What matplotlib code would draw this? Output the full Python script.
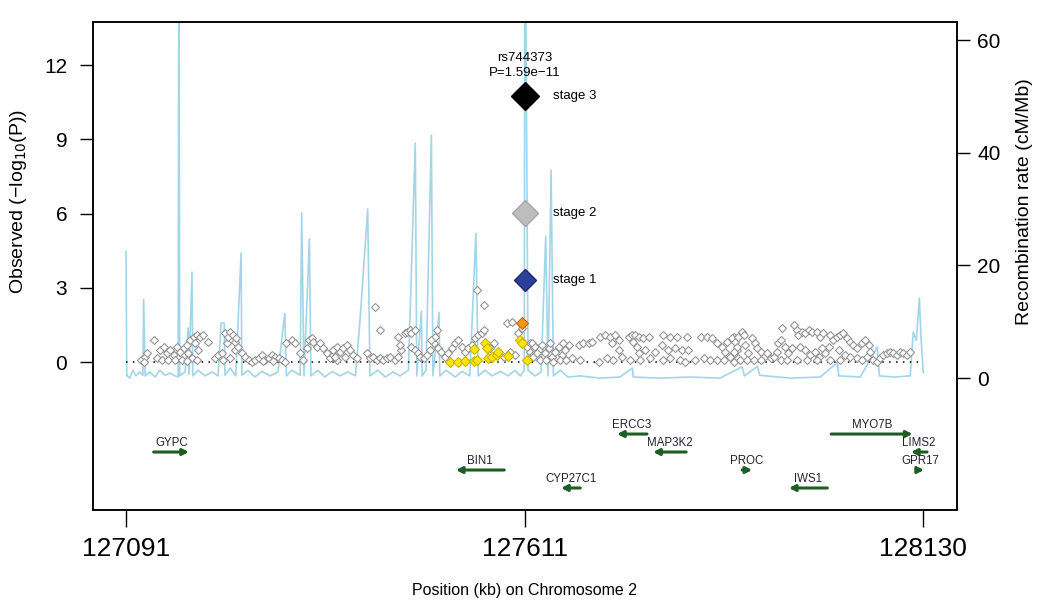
import numpy as np
import matplotlib.pyplot as plt

plt.rcParams['font.family'] = ['Liberation Sans', 'DejaVu Sans']

# recombination rate track (kb, cM/Mb)
recomb_pos = [127091, 127092, 127096, 127100, 127104, 127109, 127113, 127114, 127116, 127122,
              127129, 127135, 127142, 127148, 127155, 127159, 127160, 127161, 127168, 127172,
              127173, 127177, 127178, 127185, 127194, 127203, 127211, 127215, 127219, 127220,
              127227, 127234, 127241, 127242, 127250, 127259, 127268, 127279, 127289, 127298,
              127300, 127307, 127318, 127320, 127323, 127330, 127332, 127341, 127350, 127360,
              127370, 127380, 127390, 127396, 127406, 127409, 127419, 127429, 127439, 127448,
              127459, 127468, 127470, 127476, 127477, 127482, 127489, 127491, 127499, 127500,
              127508, 127520, 127529, 127539, 127547, 127550, 127559, 127568, 127579, 127589,
              127598, 127605, 127610, 127611, 127615, 127624, 127632, 127638, 127641, 127645,
              127648, 127657, 127667, 127683, 127709, 127735, 127751, 127752, 127787, 127826,
              127865, 127894, 127897, 127914, 127917, 127957, 127996, 128018, 128020, 128048,
              128070, 128073, 128093, 128113, 128117, 128121, 128125, 128127, 128130]
recomb_rate = [22.5, 0.5, 0.0, 1.4, 0.4, 1.1, 0.5, 14.0, 0.4, 1.1,
               0.2, 1.4, 0.5, 0.9, 0.4, 0.2, 80.0, 0.4, 1.1, 8.9,
               0.7, 18.8, 0.4, 1.4, 0.4, 1.1, 0.4, 9.8, 9.8, 0.5,
               1.8, 0.4, 22.2, 0.5, 1.4, 0.2, 1.2, 0.4, 1.1, 11.5,
               0.4, 1.4, 0.5, 29.3, 0.4, 24.7, 0.4, 1.4, 0.2, 1.2,
               0.4, 1.1, 0.4, 10.3, 30.0, 0.4, 1.4, 0.2, 1.1, 0.4,
               1.4, 41.7, 0.4, 11.9, 0.4, 1.4, 43.1, 0.4, 11.7, 0.4,
               1.4, 0.2, 1.2, 0.4, 25.7, 0.4, 1.4, 0.4, 1.2, 0.4,
               1.4, 0.4, 1.4, 90.0, 1.4, 0.4, 1.1, 25.2, 0.4, 36.9,
               0.4, 1.4, 0.2, 0.4, 0.0, 0.2, 1.8, 0.2, 0.0, 0.2,
               0.0, 2.0, 0.4, 2.1, 0.5, 0.0, 0.2, 2.8, 0.4, 0.2,
               5.5, 0.4, 0.2, 0.4, 8.2, 6.7, 14.2, 7.5, 1.0]

# SNPs (kb, -log10 P), not in LD with the index SNP
snp_pos = [127111, 127116, 127118, 127114, 127128, 127135, 127140, 127144, 127148, 127153,
           127157, 127159, 127161, 127166, 127170, 127172, 127175, 127177, 127179, 127183,
           127188, 127192, 127198, 127181, 127185, 127131, 127138, 127146, 127155, 127164,
           127170, 127183, 127207, 127211, 127216, 127220, 127222, 127224, 127227, 127231,
           127233, 127235, 127218, 127227, 127233, 127237, 127242, 127246, 127251, 127255,
           127259, 127264, 127268, 127272, 127277, 127281, 127285, 127290, 127294, 127298,
           127270, 127283, 127300, 127307, 127311, 127318, 127322, 127327, 127329, 127333,
           127335, 127340, 127344, 127348, 127353, 127357, 127361, 127366, 127368,
           127361, 127366, 127370, 127374, 127379, 127383, 127363, 127376, 127387, 127392,
           127416, 127422, 127405, 127409, 127413, 127418, 127422, 127426, 127431, 127435,
           127442, 127446, 127450, 127448, 127446, 127455, 127457, 127461, 127463, 127468,
           127463, 127468, 127472, 127474, 127479, 127483, 127487, 127492, 127494, 127496,
           127489, 127498, 127502, 127507, 127511, 127516, 127520, 127524, 127529, 127533,
           127537, 127542, 127546, 127550, 127555, 127557, 127557, 127548, 127570, 127565,
           127574, 127583, 127592, 127587, 127594, 127598, 127602, 127607, 127613, 127618,
           127622, 127626, 127618, 127626,
           127620, 127624, 127629, 127633, 127637, 127642, 127646, 127650, 127655, 127659,
           127663, 127668, 127672, 127622, 127631, 127639, 127648, 127657, 127665, 127626,
           127644, 127661, 127681, 127687, 127694, 127698, 127683, 127707, 127709, 127715,
           127722, 127728, 127724, 127733, 127737, 127718, 127726, 127733, 127746, 127750,
           127755, 127759, 127765, 127772, 127752, 127757, 127759, 127761, 127768, 127748,
           127774, 127781, 127789, 127791, 127800, 127809, 127822, 127798, 127807, 127815,
           127824, 127800, 127813, 127820, 127791, 127841, 127848, 127855, 127861, 127868,
           127872, 127874, 127878, 127883, 127887, 127833, 127844, 127852, 127861, 127870,
           127883, 127889,
           127881, 127885, 127889, 127894, 127896, 127887, 127883, 127898, 127902, 127907,
           127911, 127913, 127918, 127922, 127926, 127931, 127935, 127939, 127941, 127944,
           127946, 127950, 127954, 127959, 127961, 127965, 127967, 127972, 127976, 127981,
           127985, 127991, 127996, 128000, 127970, 127976, 127983, 127989, 127994, 127998,
           128002, 128007, 128009, 128013, 128017, 128022, 128026, 128030, 128035, 128039,
           128044, 128050, 128054, 128059, 128061, 128057, 128065, 128070, 128074, 128078,
           128083, 128087, 128091, 128096, 128100, 128104, 128109, 128113, 128020, 128028,
           128035, 128044, 128050, 127891, 127900, 127909, 127918, 127944, 127952, 127965,
           127978, 127991, 128009, 128022]
snp_logp = [0.08, 0.22, 0.35, 0.01, 0.89, 0.48, 0.62, 0.35, 0.48, 0.28,
            0.62, 0.15, 0.42, 0.55, 0.69, 0.35, 0.89, 0.15, 1.02, 1.09,
            1.02, 1.09, 0.82, 0.75, 0.48, 0.15, 0.08, 0.08, 0.08, 0.08,
            0.05, 0.08, 0.15, 0.28, 0.35, 1.16, 0.75, 1.02, 1.23, 1.09,
            0.82, 0.96, 0.08, 0.15, 0.48, 0.62, 0.35, 0.22, 0.08, 0.01,
            0.08, 0.15, 0.28, 0.08, 0.15, 0.28, 0.22, 0.15, 0.08, 0.01,
            0.05, 0.04, 0.75, 0.89, 0.75, 0.35, 0.08, 0.55, 0.89, 0.96,
            0.82, 0.62, 0.75, 0.55, 0.35, 0.15, 0.28, 0.08, 0.48,
            0.48, 0.62, 0.42, 0.55, 0.69, 0.48, 0.22, 0.22, 0.28, 0.15,
            2.21, 1.29, 0.35, 0.15, 0.22, 0.08, 0.15, 0.08, 0.15, 0.22,
            0.08, 0.22, 0.48, 0.69, 1.02, 1.16, 1.23, 1.29, 1.16, 1.29,
            0.62, 0.48, 0.35, 0.22, 0.15, 0.28, 0.48, 0.75, 1.02, 1.29,
            0.89, 0.55, 0.42, 0.22, 0.35, 0.55, 0.75, 0.89, 0.62, 0.42,
            0.55, 0.69, 0.96, 1.09, 1.16, 1.29, 2.30, 2.91, 0.75, 0.55,
            0.35, 0.22, 0.42, 1.56, 1.63, 0.28, 1.16, 1.36, 0.62, 0.42,
            0.28, 0.22, 0.75, 0.55,
            0.75, 0.62, 0.48, 0.69, 0.35, 0.55, 0.22, 0.42, 0.62, 0.28,
            0.48, 0.69, 0.15, 0.22, 0.08, 0.08, 0.01, 0.08, 0.08, 0.35,
            0.75, 0.75, 0.69, 0.75, 0.75, 0.82, 0.08, 0.01, 1.02, 1.09,
            1.02, 1.09, 0.75, 0.48, 0.22, 0.15, 0.08, 0.89, 1.02, 1.09,
            1.09, 1.02, 0.96, 1.02, 0.82, 0.62, 0.35, 0.08, 0.48, 0.08,
            0.15, 0.42, 0.69, 1.09, 1.02, 1.02, 1.02, 0.48, 0.55, 0.48,
            0.48, 0.15, 0.08, 0.01, 0.08, 1.02, 1.02, 0.96, 0.75, 0.62,
            0.42, 0.82, 0.22, 1.02, 0.48, 0.08, 0.15, 0.08, 0.08, 0.08,
            0.01, 0.15,
            0.96, 0.82, 1.02, 1.23, 1.09, 0.62, 0.42, 0.69, 0.35, 0.96,
            0.75, 0.55, 0.42, 0.22, 0.35, 0.15, 0.22, 0.42, 0.75, 0.89,
            1.36, 0.62, 0.35, 0.55, 1.49, 1.29, 1.09, 1.23, 1.16, 1.29,
            1.23, 1.23, 1.02, 1.16, 0.62, 0.48, 0.28, 0.42, 0.22, 0.55,
            0.35, 0.62, 1.09, 0.89, 1.02, 1.09, 1.16, 0.96, 0.82, 0.69,
            0.55, 0.75, 0.89, 0.69, 0.42, 0.22, 0.08, 0.01, 0.15, 0.28,
            0.35, 0.42, 0.35, 0.28, 0.42, 0.35, 0.28, 0.42, 0.48, 0.28,
            0.22, 0.15, 0.08, 0.08, 0.08, 0.08, 0.08, 0.08, 0.08, 0.08,
            0.08, 0.08, 0.08, 0.08]

# SNPs in moderate LD (yellow) and high LD (orange)
ld_pos = [127513, 127524, 127533, 127544, 127548, 127545, 127559, 127561, 127563, 127568,
          127574, 127576, 127589, 127605, 127607, 127613]
ld_logp = [0.01, 0.01, 0.05, 0.05, 0.08, 0.51, 0.75, 0.55, 0.15, 0.22,
           0.28, 0.42, 0.24, 0.89, 0.75, 0.08]
hi_ld_pos = [127607]
hi_ld_logp = [1.58]

# index SNP rs744373 in each stage
index_pos = 127611
stage_names = ['stage 1', 'stage 2', 'stage 3']
stage_logp = [3.31, 6.02, 10.75]
stage_colors = ['#2b3f9b', '#bdbdbd', '#000000']
stage_edges = ['#1c2a70', '#a6a6a6', '#000000']
stage_sizes = [11, 13, 14]

# genes in the region
gene_names = ['GYPC', 'BIN1', 'CYP27C1', 'ERCC3', 'MAP3K2', 'PROC', 'IWS1', 'MYO7B', 'LIMS2', 'GPR17']
gene_start = [127127, 127521, 127658, 127731, 127778, 127894, 127955, 128010, 128114, 128121]
gene_end = [127173, 127584, 127683, 127770, 127821, 127907, 128005, 128116, 128135, 128131]
gene_strand = ['+', '-', '-', '-', '-', '+', '-', '+', '-', '+']
gene_row = [2, 3, 4, 1, 2, 3, 4, 1, 2, 3]

xticks = [127091, 127611, 128130]

fig = plt.figure(figsize=(10.5, 6.15), dpi=100)
ax = fig.add_axes([93 / 1050, 1 - 510 / 615, 864 / 1050, 488 / 615])
ax2 = ax.twinx()
ax.set_zorder(ax2.get_zorder() + 1)
ax.patch.set_visible(False)

# recombination rate
ax2.plot(recomb_pos, recomb_rate, color='#a3d5e8', lw=1.2)
ax2.set_ylim(-23.4, 63.2)
ax2.set_yticks([0, 20, 40, 60])
ax2.tick_params(axis='y', length=9.5, width=1, labelsize=15, pad=5)
ax2.set_ylabel('Recombination rate (cM/Mb)', fontsize=14, va='center')
ax2.yaxis.set_label_coords(1.0787, 0.631)

# association results
ax.plot([xticks[0], xticks[-1]], [0, 0], color='black', lw=1.1, ls=(0, (1, 3.5)))
ax.plot(snp_pos, snp_logp, 'D', ms=4.0, mfc='white', mec='#949494', mew=0.8, ls='none')
ax.plot(ld_pos, ld_logp, 'D', ms=4.6, mfc='#ffe600', mec='#c9b400', mew=0.8, ls='none')
ax.plot(hi_ld_pos, hi_ld_logp, 'D', ms=6.2, mfc='#f7941d', mec='#c06a00', mew=0.8, ls='none')
for name, val, fc, ec, ms in zip(stage_names, stage_logp, stage_colors, stage_edges, stage_sizes):
    ax.plot(index_pos, val, 'D', ms=ms, mfc=fc, mec=ec, mew=1)
    ax.annotate(name, (index_pos, val), xytext=(20, 0), textcoords='offset points',
                va='center', ha='left', fontsize=9.5)
ax.text(index_pos, 12.28, 'rs744373', ha='center', va='center', fontsize=9.5)
ax.text(index_pos, 11.68, 'P=1.59e\u221211', ha='center', va='center', fontsize=9.5)

# genes
for name, s, e, strand, row in zip(gene_names, gene_start, gene_end, gene_strand, gene_row):
    y = -2.91 - 0.727 * (row - 1)
    a, b = (s, e) if strand == '+' else (e, s)
    ax.annotate('', xy=(b, y), xytext=(a, y),
                arrowprops=dict(arrowstyle='-|>,head_length=0.35,head_width=0.18',
                                color='#1e5e24', lw=2.2, shrinkA=0, shrinkB=0))
    ax.text((s + e) / 2, y + 0.37, name, ha='center', va='center', fontsize=8.3,
            color='#222233')

ax.set_xlim(127048, 128174)
ax.set_ylim(-5.98, 13.74)
ax.set_yticks([0, 3, 6, 9, 12])
ax.set_xticks(xticks)
ax.set_xticklabels([str(t) for t in xticks])
ax.tick_params(axis='y', length=9.5, width=1, labelsize=15, pad=9)
ax.tick_params(axis='x', length=12.5, width=1, labelsize=19, pad=7)
ax.set_ylabel('Observed (\u2212log$_{10}$(P))', fontsize=14, va='center')
ax.yaxis.set_label_coords(-0.0868, 0.633)
ax.set_xlabel('Position (kb) on Chromosome 2', fontsize=11.5, va='center')
ax.xaxis.set_label_coords(0.5, -0.164)

for sp in ax.spines.values():
    sp.set_linewidth(1.1)
for sp in ax2.spines.values():
    sp.set_linewidth(1.1)

fig.savefig('out.png', dpi=100)
